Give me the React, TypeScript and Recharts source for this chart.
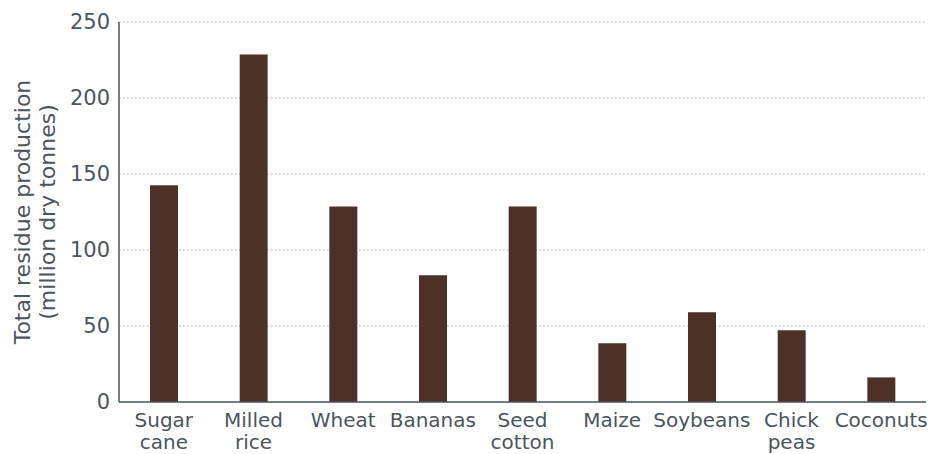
import React from "react";
import { BarChart, Bar, XAxis, YAxis, CartesianGrid } from "recharts";

const crops = [
  "Sugar cane",
  "Milled rice",
  "Wheat",
  "Bananas",
  "Seed cotton",
  "Maize",
  "Soybeans",
  "Chick peas",
  "Coconuts",
];
const residue = [142.6, 228.7, 128.7, 83.4, 128.7, 38.6, 59, 47.2, 16.2];
const yTicks = [0, 50, 100, 150, 200, 250];

// labels that wrap onto two lines in the original
const tickLines: Record<string, string[]> = {
  "Sugar cane": ["Sugar", "cane"],
  "Milled rice": ["Milled", "rice"],
  "Seed cotton": ["Seed", "cotton"],
  "Chick peas": ["Chick", "peas"],
};

const data = crops.map((crop, i) => ({ crop, value: residue[i] }));

const textColor = "#4a5560";
const font = "'DejaVu Sans', sans-serif";

const CropTick = (props: any) => {
  const { x, y, payload } = props;
  const lines = tickLines[payload.value] || [payload.value];
  return (
    <text x={x} y={y} textAnchor="middle" fill={textColor} fontSize={20} fontFamily={font}>
      {lines.map((l: string, i: number) => (
        <tspan key={i} x={x} dy={i === 0 ? 17 : 22}>
          {l}
        </tspan>
      ))}
    </text>
  );
};

const YLabel = (props: any) => {
  const vb = props.viewBox || { x: 0, y: 0, width: 0, height: 0 };
  const cy = vb.y + vb.height / 2;
  return (
    <g transform={`translate(0, ${cy}) rotate(-90)`}>
      <text textAnchor="middle" fill={textColor} fontSize={22} fontFamily={font}>
        <tspan x={0} y={30}>Total residue production</tspan>
        <tspan x={0} y={55}>(million dry tonnes)</tspan>
      </text>
    </g>
  );
};

export default function App() {
  return (
    <div style={{ position: "absolute", left: 0, top: 0, background: "#fff" }}>
      <BarChart
        width={930}
        height={454}
        data={data}
        margin={{ top: 22, right: 4, left: 0, bottom: 0 }}
        barCategoryGap={0}
      >
        <CartesianGrid
          vertical={false}
          stroke="#c8c8c8"
          strokeDasharray="1.5 2.5"
          strokeWidth={1.5}
        />
        <XAxis
          dataKey="crop"
          interval={0}
          height={52}
          tickLine={false}
          axisLine={{ stroke: textColor, strokeWidth: 1.5 }}
          tick={<CropTick />}
        />
        <YAxis
          width={119}
          domain={[0, 250]}
          ticks={yTicks}
          tickLine={false}
          axisLine={{ stroke: textColor, strokeWidth: 1.5 }}
          tick={{ fill: textColor, fontSize: 21, fontFamily: font }}
          tickMargin={3}
          label={<YLabel />}
        />
        <Bar dataKey="value" fill="#4d3128" barSize={28} isAnimationActive={false} />
      </BarChart>
    </div>
  );
}
